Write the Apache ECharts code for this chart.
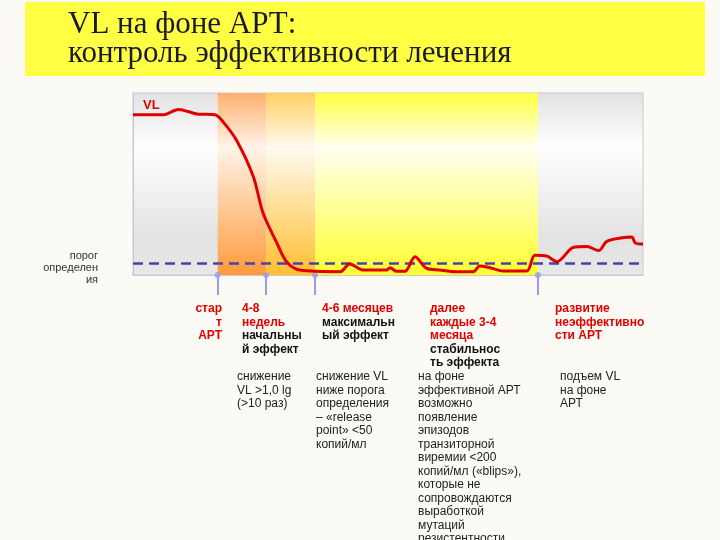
<!DOCTYPE html>
<html>
<head>
<meta charset="utf-8">
<script src="https://cdn.jsdelivr.net/npm/echarts@6/dist/echarts.min.js"></script>
<style>html,body{margin:0;padding:0;background:#fbfaf4;}#chart{width:720px;height:540px;}</style>
</head>
<body>
<div id="chart"></div>
<script>
// VL curve (x: time units 0..100, y: relative viral load 0..100)
const vlX = [0, 5.9, 8.9, 12.5, 16.1, 17.7, 20.3, 23.6, 25.5, 28.2, 30.1, 32.7, 40.6, 42.5, 45.2, 49.7, 50.4, 51.7, 53.3, 55.3, 57.5, 60.2, 63.4, 66.7, 68, 70, 72.6, 77.2, 78.8, 81.1, 83.1, 86.4, 89, 91.3, 92.9, 95.6, 97.8, 98.5, 100];
const vlY = [88, 88, 91, 88.5, 88, 84, 74, 54, 34, 17.6, 7.3, 2.7, 1.8, 6, 2.7, 2.7, 4, 2, 2, 10, 3.8, 2.7, 1.8, 1.8, 5, 4, 2.2, 2.2, 10.8, 10.4, 7.3, 15.2, 15.6, 13.4, 18.5, 20.3, 20.9, 17.6, 17];
const threshold = 6.6;
const phaseBounds = [16.6, 26.1, 35.7, 79.4];

const chart = echarts.init(document.getElementById('chart'));

const grad = (stops) => ({ type: 'linear', x: 0, y: 0, x2: 0, y2: 1,
  colorStops: stops.map(([o, c]) => ({ offset: o, color: c })) });

const red = '#e00000';
const sty = {
  r: { fill: red, font: 'bold 12px Arial', lineHeight: 13.5 },
  b: { fill: '#111', font: 'bold 12px Arial', lineHeight: 13.5 },
  n: { fill: '#222', font: '12px Arial', lineHeight: 13.5 }
};
function txt(x, y, text, align) {
  return { type: 'text', x, y,
    style: { text, rich: sty, align: align || 'left', font: '12px Arial', lineHeight: 13.5 } };
}

chart.setOption({
  animation: false,
  grid: { left: 133, right: 77, top: 93, bottom: 265 },
  xAxis: {
    type: 'value', min: 0, max: 100,
    axisLine: { show: true, lineStyle: { color: '#c8c8d8' } },
    axisLabel: { show: false }, splitLine: { show: false },
    axisTick: { show: true, customValues: phaseBounds, length: 20, inside: false,
      lineStyle: { color: '#9a9aee', width: 2 } }
  },
  yAxis: {
    type: 'value', min: 0, max: 100,
    axisLine: { show: true, lineStyle: { color: '#c8c8d8' } },
    axisLabel: { show: false }, splitLine: { show: false }, axisTick: { show: false }
  },
  graphic: [
    { type: 'rect', shape: { x: 25, y: 2, width: 680, height: 74 },
      style: { fill: '#ffff44' }, z: -10 },
    { type: 'text', x: 68, y: 10,
      style: { text: 'VL на фоне АРТ:\nконтроль эффективности лечения',
        font: '31px "Liberation Serif", "DejaVu Serif", serif', fill: '#1a1a2a', lineHeight: 29 } },
    { type: 'rect', shape: { x: 133, y: 93, width: 510, height: 182 },
      style: { fill: grad([[0, '#e2e2e2'], [0.3, '#ffffff'], [0.8, '#e2e2e2'], [1, '#e8e8e8']]),
        stroke: '#c8c8d8' }, z: -5 },
    { type: 'text', x: 143, y: 99, z: 10,
      style: { text: 'VL', font: 'bold 13px Arial', fill: red } },
    { type: 'text', x: 98, y: 250,
      style: { text: 'порог\nопределен\nия', font: '11px Arial', fill: '#333', align: 'right', lineHeight: 12 } },
    txt(222, 302, '{r|стар}\n{r|т}\n{r|АРТ}', 'right'),
    txt(242, 302, '{r|4-8}\n{r|недель}\n{b|начальны}\n{b|й эффект}'),
    txt(322, 302, '{r|4-6 месяцев}\n{b|максимальн}\n{b|ый эффект}'),
    txt(430, 302, '{r|далее}\n{r|каждые 3-4}\n{r|месяца}\n{b|стабильнос}\n{b|ть эффекта}'),
    txt(555, 302, '{r|развитие}\n{r|неэффективно}\n{r|сти АРТ}'),
    txt(237, 370, '{n|снижение}\n{n|VL >1,0 lg}\n{n|(>10 раз)}'),
    txt(316, 370, '{n|снижение VL}\n{n|ниже порога}\n{n|определения}\n{n|– «release}\n{n|point» <50}\n{n|копий/мл}'),
    txt(418, 370, '{n|на фоне}\n{n|эффективной АРТ}\n{n|возможно}\n{n|появление}\n{n|эпизодов}\n{n|транзиторной}\n{n|виремии <200}\n{n|копий/мл («blips»),}\n{n|которые не}\n{n|сопровождаются}\n{n|выработкой}\n{n|мутаций}\n{n|резистентности}'),
    txt(560, 370, '{n|подъем VL}\n{n|на фоне}\n{n|АРТ}')
  ],
  series: [
    {
      type: 'line', showSymbol: false, smooth: 0.3,
      data: vlX.map((x, i) => [x, vlY[i]]),
      lineStyle: { color: red, width: 3 }, z: 5,
      markArea: {
        silent: true,
        data: [
          [{ xAxis: phaseBounds[0], yAxis: 100,
             itemStyle: { color: grad([[0, '#ffb070'], [0.3, '#fff4ea'], [1, '#ff9a3a']]) } },
           { xAxis: phaseBounds[1], yAxis: 0 }],
          [{ xAxis: phaseBounds[1], yAxis: 100,
             itemStyle: { color: grad([[0, '#ffd060'], [0.3, '#fffaf0'], [1, '#ffbf30']]) } },
           { xAxis: phaseBounds[2], yAxis: 0 }],
          [{ xAxis: phaseBounds[2], yAxis: 100,
             itemStyle: { color: grad([[0, '#ffff40'], [0.3, '#fffff0'], [1, '#ffff30']]) } },
           { xAxis: phaseBounds[3], yAxis: 0 }]
        ]
      },
      markLine: {
        silent: true, symbol: 'none', label: { show: false },
        lineStyle: { color: '#4444aa', type: [10, 6], width: 2.5 },
        data: [{ yAxis: threshold }]
      }
    },
    {
      type: 'scatter', symbolSize: 6, clip: false, silent: true,
      itemStyle: { color: '#9a9aee' },
      data: phaseBounds.map(x => [x, 0])
    }
  ]
});
</script>
</body>
</html>
